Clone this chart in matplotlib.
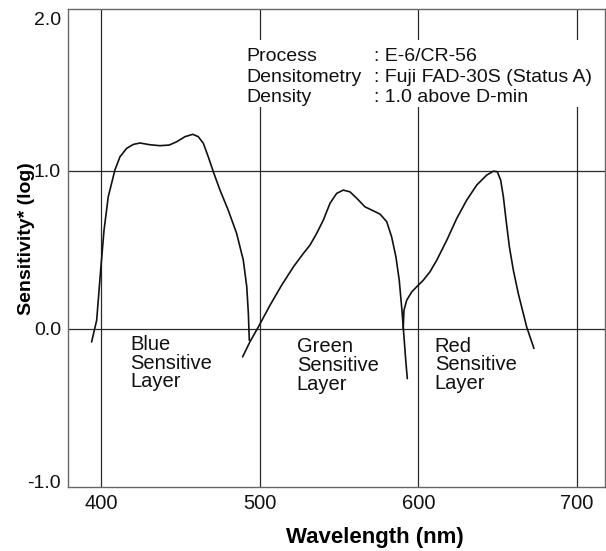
import numpy as np
import matplotlib
matplotlib.use("Agg")
import matplotlib.pyplot as plt
import matplotlib.transforms as mtransforms
from matplotlib.patches import Rectangle

plt.rcParams['font.family'] = ['Liberation Sans', 'DejaVu Sans']

# Datos
blue_x = [393.9, 397.1, 399.6, 401.7, 404.4, 408.6, 411.8, 416.0, 420.2, 424.4,
          430.7, 437.0, 442.9, 447.6, 452.8, 457.7, 461.2, 464.4, 467.5, 470.7,
          474.9, 480.1, 485.4, 489.6, 491.8, 492.8, 493.4]
blue_y = [-0.084, 0.054, 0.37, 0.62, 0.835, 1.004, 1.088, 1.141, 1.166, 1.175,
          1.164, 1.158, 1.162, 1.183, 1.215, 1.23, 1.215, 1.173, 1.088, 0.993,
          0.877, 0.75, 0.603, 0.434, 0.265, 0.096, -0.073]

green_x = [489.2, 493.8, 499.1, 506.5, 513.8, 521.2, 527.5, 531.7, 535.9, 540.1,
           544.3, 548.5, 552.7, 556.9, 561.2, 566.4, 571.6, 575.9, 580.1, 583.2,
           585.9, 588.0, 589.7, 591.0, 592.1, 593.1]
green_y = [-0.178, -0.083, 0.011, 0.149, 0.275, 0.391, 0.476, 0.529, 0.603, 0.687,
           0.793, 0.856, 0.877, 0.866, 0.825, 0.771, 0.746, 0.725, 0.677, 0.581,
           0.455, 0.307, 0.117, -0.052, -0.2, -0.316]

red_x = [590.5, 591.0, 592.7, 595.9, 599.0, 603.2, 607.4, 611.7, 618.0, 624.3,
         630.6, 636.9, 643.2, 647.4, 649.9, 652.0, 653.7, 655.4, 657.5, 660.0,
         663.1, 668.4, 673.0]
red_y = [0.0, 0.117, 0.18, 0.233, 0.265, 0.307, 0.36, 0.434, 0.56, 0.698,
         0.814, 0.909, 0.972, 0.997, 0.993, 0.94, 0.835, 0.687, 0.518, 0.37,
         0.223, 0.011, -0.125]

x_ticks = [400, 500, 600, 700]
y_ticks = [-1.0, 0.0, 1.0, 2.0]
y_ticklabels = ['-1.0', '0.0', '1.0', '2.0']

info_keys = ['Process', 'Densitometry', 'Density']
info_vals = [': E-6/CR-56', ': Fuji FAD-30S (Status A)', ': 1.0 above D-min']
info_y = [1.694, 1.561, 1.434]

layer_names = ['Blue\nSensitive\nLayer', 'Green\nSensitive\nLayer', 'Red\nSensitive\nLayer']
layer_x = [418.5, 523.3, 610.4]
layer_y = [-0.04, -0.055, -0.05]

fig = plt.figure(figsize=(6.06, 5.51), dpi=100)
ax = fig.add_axes([0.1122, 0.1167, 0.8866, 0.8661])
ax.set_xlim(379.0, 718.0)
ax.set_ylim(-1.0, 2.02)

# grid
for xv in x_ticks:
    ax.axvline(xv, color='#2a2a2a', lw=0.9, zorder=1)
for yv in [0.0, 1.0]:
    ax.axhline(yv, color='#2a2a2a', lw=0.9, zorder=1)

# white patch behind the info text
ax.add_patch(Rectangle((487.5, 1.403), 227.0, 0.424, facecolor='white',
                       edgecolor='none', zorder=2))

for xs, ys in [(blue_x, blue_y), (green_x, green_y), (red_x, red_y)]:
    ax.plot(xs, ys, color='#111111', lw=1.2, zorder=3,
            solid_joinstyle='round', solid_capstyle='round')

for k, v, y in zip(info_keys, info_vals, info_y):
    ax.text(491.3, y, k, fontsize=14, color='#111111', va='baseline', zorder=4)
    ax.text(572.0, y, v, fontsize=14, color='#111111', va='baseline', zorder=4)

for name, x, y in zip(layer_names, layer_x, layer_y):
    ax.text(x, y, name, fontsize=14.5, color='#111111', va='top', ha='left',
            linespacing=0.98, zorder=4)

ax.set_xticks(x_ticks)
ax.set_yticks(y_ticks)
ax.set_yticklabels(y_ticklabels)
ax.tick_params(axis='x', length=0, labelsize=14.5, colors='#111111', pad=5)
ax.tick_params(axis='y', length=0, labelsize=14, colors='#111111', pad=5)
# end labels sit a bit inside the frame in the original
ylabs = ax.get_yticklabels()
ylabs[0].set_transform(ylabs[0].get_transform() +
                       mtransforms.ScaledTranslation(0, 5 / 100, fig.dpi_scale_trans))
ylabs[-1].set_transform(ylabs[-1].get_transform() +
                        mtransforms.ScaledTranslation(0, -6 / 100, fig.dpi_scale_trans))
for s in ax.spines.values():
    s.set_color('#666666')
    s.set_linewidth(1.0)

ax.set_xlabel('Wavelength (nm)', fontsize=16, fontweight='bold')
ax.xaxis.set_label_coords(0.572, -0.085)
ax.set_ylabel('Sensitivity* (log)', fontsize=14, fontweight='bold')
ax.yaxis.set_label_coords(-0.062, 0.519)

fig.savefig('out.png', dpi=100)
